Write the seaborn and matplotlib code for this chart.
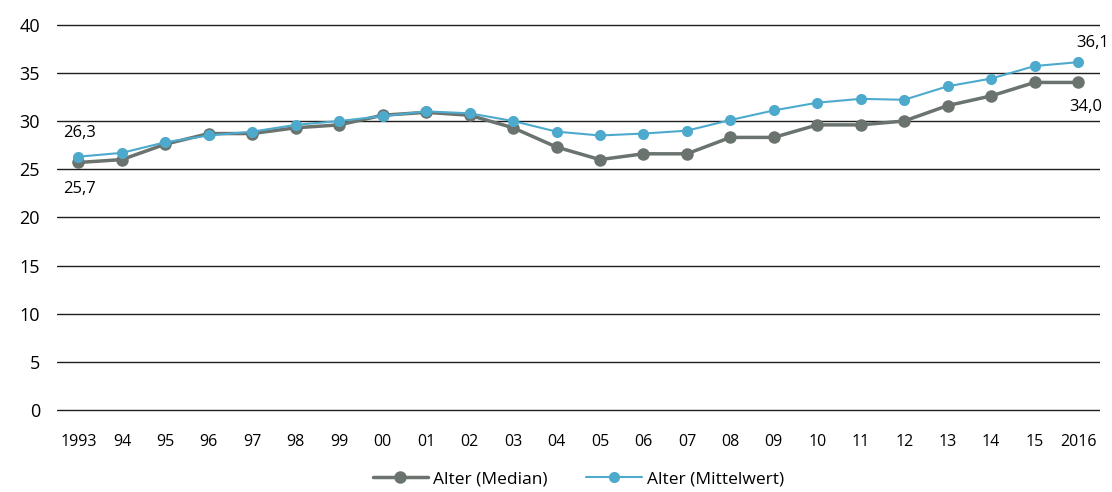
import matplotlib
matplotlib.use("Agg")
import matplotlib.pyplot as plt
import numpy as np
import pandas as pd
import seaborn as sns

# Data
years = list(range(1993, 2017))
year_labels = ["1993", "94", "95", "96", "97", "98", "99", "00", "01", "02", "03",
	"04", "05", "06", "07", "08", "09", "10", "11", "12", "13", "14", "15", "2016"]
median_age = [25.7, 26.0, 27.6, 28.7, 28.7, 29.3, 29.6, 30.6, 30.9, 30.6, 29.3, 27.3,
	26.0, 26.6, 26.6, 28.3, 28.3, 29.6, 29.6, 30.0, 31.6, 32.6, 34.0, 34.0]
mean_age = [26.3, 26.7, 27.8, 28.5, 28.9, 29.6, 30.0, 30.5, 31.0, 30.8, 30.0, 28.9,
	28.5, 28.7, 29.0, 30.1, 31.1, 31.9, 32.3, 32.2, 33.6, 34.4, 35.7, 36.1]
yticks = [0, 5, 10, 15, 20, 25, 30, 35, 40]

GRAY = "#6a736e"
BLUE = "#4eaacd"


def main() -> None:
	sns.set_style("white")
	plt.rcParams["font.family"] = ["Open Sans", "DejaVu Sans"]
	plt.rcParams["text.color"] = "black"
	plt.rcParams["xtick.color"] = "black"
	plt.rcParams["ytick.color"] = "black"

	df = pd.DataFrame({"pos": np.arange(len(years)), "median": median_age, "mean": mean_age})

	fig = plt.figure(figsize=(11.12, 4.92), dpi=100)
	ax = fig.add_axes([0.051, 0.163, 0.938, 0.79])

	sns.lineplot(data=df, x="pos", y="median", color=GRAY, linewidth=2.5, marker="o",
		markersize=9, markeredgewidth=0, label="Alter (Median)", ax=ax, zorder=3)
	sns.lineplot(data=df, x="pos", y="mean", color=BLUE, linewidth=1.5, marker="o",
		markersize=8, markeredgewidth=0, label="Alter (Mittelwert)", ax=ax, zorder=4)

	ax.set_xlim(-0.5, len(years) - 0.5)
	ax.set_ylim(-0.15, 40.15)
	ax.set_yticks(yticks)
	ax.set_yticklabels([str(t) for t in yticks], fontsize=13, va="center_baseline")
	ax.set_xticks(df["pos"])
	ax.set_xticklabels(year_labels, fontsize=11.5)
	ax.tick_params(axis="both", length=0)
	ax.tick_params(axis="x", pad=16)
	ax.tick_params(axis="y", pad=12)
	ax.grid(axis="y", color="#1e1e1e", linewidth=1.0)
	ax.set_axisbelow(True)
	for s in ax.spines.values():
		s.set_visible(False)
	ax.set_xlabel("")
	ax.set_ylabel("")

	# value labels at start and end
	fmt = lambda v: f"{v:.1f}".replace(".", ",")
	ax.annotate(fmt(mean_age[0]), (0, mean_age[0]), xytext=(-11, 11), textcoords="offset points",
		fontsize=12, ha="left", va="bottom")
	ax.annotate(fmt(median_age[0]), (0, median_age[0]), xytext=(-11, -13), textcoords="offset points",
		fontsize=12, ha="left", va="top")
	ax.annotate(fmt(mean_age[-1]), (len(years) - 1, mean_age[-1]), xytext=(-1, 8), textcoords="offset points",
		fontsize=12, ha="left", va="bottom")
	ax.annotate(fmt(median_age[-1]), (len(years) - 1, median_age[-1]), xytext=(-6, -12), textcoords="offset points",
		fontsize=12, ha="left", va="top")

	ax.legend(loc="upper center", bbox_to_anchor=(0.5, -0.112), ncol=2, frameon=False,
		fontsize=12.5, handlelength=3.2, columnspacing=2.2, handletextpad=0.3)

	fig.savefig("out.png", dpi=100)
	plt.close(fig)


if __name__ == "__main__":
	main()
